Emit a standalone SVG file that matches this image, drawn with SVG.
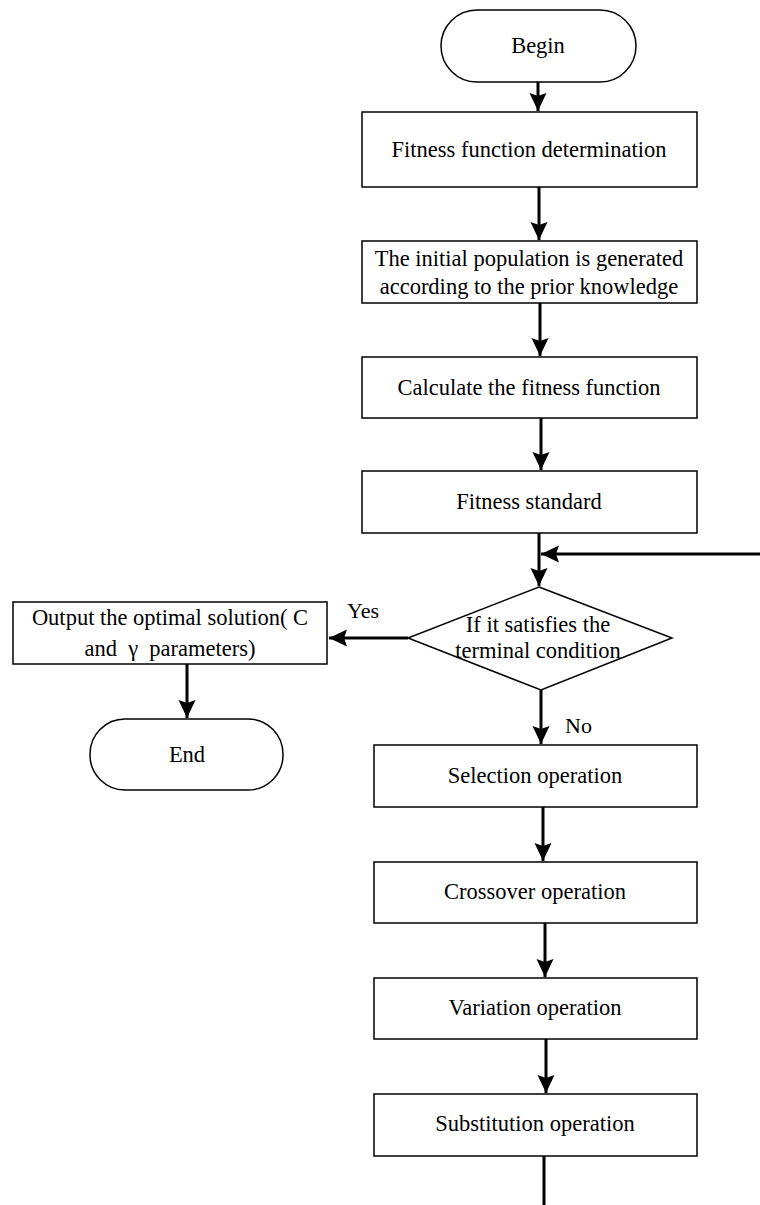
<svg xmlns="http://www.w3.org/2000/svg" width="760" height="1205" viewBox="0 0 760 1205">
<style>
.box{fill:#fff;stroke:#000;stroke-width:1.5}
.t{font-family:"Liberation Serif","Times New Roman",serif;font-size:22.5px;fill:#000;text-anchor:middle}
.lbl{font-family:"Liberation Serif","Times New Roman",serif;font-size:22px;fill:#000}
.c{fill:none;stroke:#000;stroke-width:3}
</style>
<defs>
<marker id="ah" markerUnits="userSpaceOnUse" markerWidth="19" markerHeight="18" refX="18" refY="8.5" orient="auto">
<path d="M0,0 L18,8.5 L0,17 L3,8.5 z" fill="#000"/>
</marker>
</defs>
<rect width="760" height="1205" fill="#fff"/>
<g id="connectors">
<path class="c" d="M538,82 V111" marker-end="url(#ah)"/>
<path class="c" d="M539,187 V240" marker-end="url(#ah)"/>
<path class="c" d="M540,303 V356" marker-end="url(#ah)"/>
<path class="c" d="M541,418 V470" marker-end="url(#ah)"/>
<path class="c" d="M539,533 V586" marker-end="url(#ah)"/>
<path class="c" d="M760,554 H541" marker-end="url(#ah)"/>
<path class="c" d="M408,638 H329" marker-end="url(#ah)"/>
<path class="c" d="M187,664 V718" marker-end="url(#ah)"/>
<path class="c" d="M541,690 V744" marker-end="url(#ah)"/>
<path class="c" d="M543,807 V861" marker-end="url(#ah)"/>
<path class="c" d="M545,923 V977" marker-end="url(#ah)"/>
<path class="c" d="M546,1039 V1093" marker-end="url(#ah)"/>
<path class="c" d="M544,1156 V1205"/>
<text class="lbl" x="347" y="618">Yes</text>
<text class="lbl" x="565" y="733">No</text>
</g>
<g id="begin">
<rect class="box" x="441" y="10" width="195" height="72" rx="36" ry="36"/>
<text class="t" x="538" y="53">Begin</text>
</g>
<g id="fitness-determination">
<rect class="box" x="362" y="112" width="335" height="75"/>
<text class="t" x="529" y="157">Fitness function determination</text>
</g>
<g id="initial-population">
<rect class="box" x="362" y="241" width="335" height="62"/>
<text class="t" x="529" y="266">The initial population is generated</text>
<text class="t" x="529" y="294">according to the prior knowledge</text>
</g>
<g id="calculate-fitness">
<rect class="box" x="362" y="357" width="335" height="61"/>
<text class="t" x="529" y="395">Calculate the fitness function</text>
</g>
<g id="fitness-standard">
<rect class="box" x="362" y="471" width="335" height="62"/>
<text class="t" x="529" y="509">Fitness standard</text>
</g>
<g id="terminal-condition">
<polygon class="box" points="539,587 672,638 541,690 408,638"/>
<text class="t" x="538" y="632">If it satisfies the</text>
<text class="t" x="538" y="658">terminal condition</text>
</g>
<g id="output">
<rect class="box" x="13" y="602" width="314" height="62"/>
<text class="t" x="170" y="625">Output the optimal solution( C</text>
<text class="t" x="170" y="656" style="white-space:pre">and  γ  parameters)</text>
</g>
<g id="end">
<rect class="box" x="90" y="719" width="193" height="71" rx="35" ry="35"/>
<text class="t" x="187" y="762">End</text>
</g>
<g id="selection">
<rect class="box" x="374" y="745" width="323" height="62"/>
<text class="t" x="535" y="783">Selection operation</text>
</g>
<g id="crossover">
<rect class="box" x="374" y="862" width="323" height="61"/>
<text class="t" x="535" y="899">Crossover operation</text>
</g>
<g id="variation">
<rect class="box" x="374" y="978" width="323" height="61"/>
<text class="t" x="535" y="1015">Variation operation</text>
</g>
<g id="substitution">
<rect class="box" x="374" y="1094" width="323" height="62"/>
<text class="t" x="535" y="1131">Substitution operation</text>
</g>
</svg>
